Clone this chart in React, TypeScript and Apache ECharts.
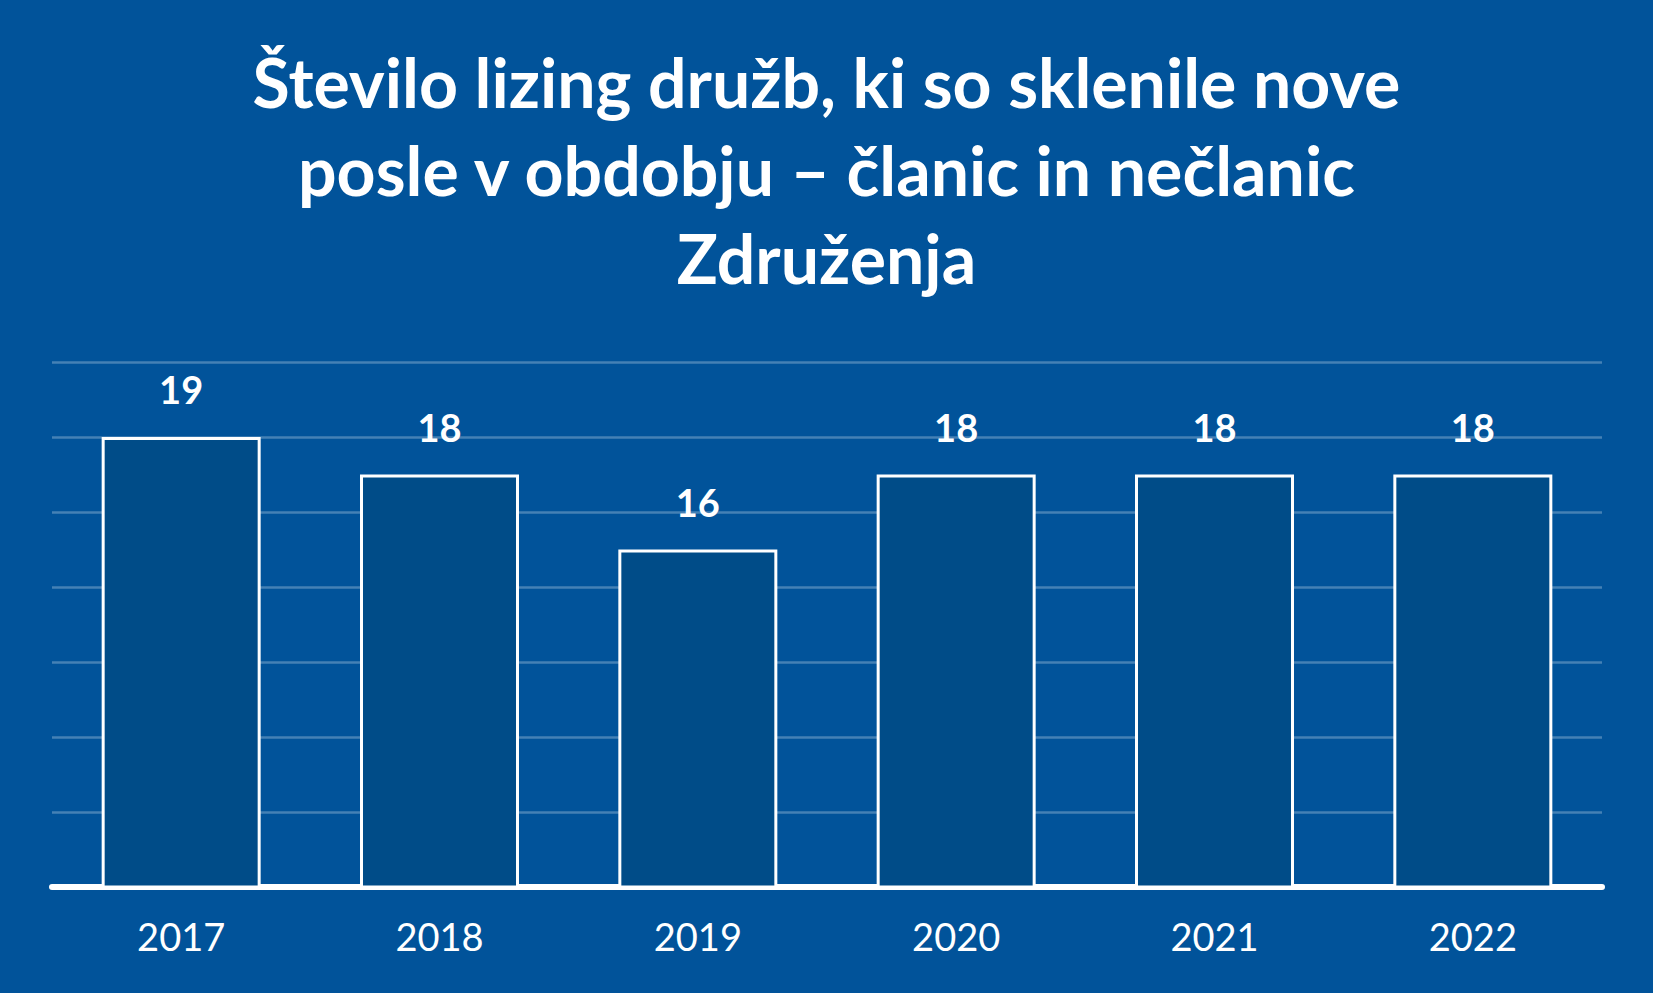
import { useEffect, useRef } from "react";
import * as echarts from "echarts";

const years = ["2017", "2018", "2019", "2020", "2021", "2022"];
const companies = [19, 18, 16, 18, 18, 18];
// Excel-style axis: gridlines on odd values from 7 to 21
const axisMin = 7;
const axisMax = 21;
const gridStep = 2;

const titleText =
  "Število lizing družb, ki so sklenile nove\nposle v obdobju – članic in nečlanic\nZdruženja";

export default function App() {
  const chartRef = useRef<HTMLDivElement>(null);

  useEffect(() => {
    if (!chartRef.current) return;
    const chart = echarts.init(chartRef.current, undefined, { renderer: "svg" });

    const option = {
      animation: false,
      backgroundColor: "#01539a",
      title: {
        text: titleText,
        left: "center",
        top: 32,
        textStyle: {
          color: "#ffffff",
          fontFamily: "Lato",
          fontWeight: "bold",
          fontSize: 68,
          lineHeight: 88,
        },
      },
      grid: {
        left: 52,
        right: 51,
        top: 362,
        bottom: 106,
      },
      xAxis: {
        type: "category",
        data: years,
        axisTick: { show: false },
        axisLine: { lineStyle: { color: "#ffffff", width: 6 } },
        axisLabel: {
          color: "#ffffff",
          fontFamily: "Lato",
          fontSize: 38,
          margin: 30,
        },
      },
      yAxis: [
        {
          type: "value",
          min: axisMin,
          max: axisMax,
          axisLabel: { show: false },
          axisLine: { show: false },
          axisTick: { show: false },
          splitLine: { show: false },
        },
        {
          // helper axis, only for the gridlines (offset so ticks land on odd values)
          type: "value",
          position: "left",
          min: 0,
          max: axisMax - axisMin,
          interval: gridStep,
          axisLabel: { show: false },
          axisLine: { show: false },
          axisTick: { show: false },
          splitLine: {
            lineStyle: { color: "rgba(255,255,255,0.27)", width: 2.5 },
          },
        },
      ],
      series: [
        {
          type: "bar",
          yAxisIndex: 0,
          data: companies,
          barWidth: 159,
          itemStyle: {
            color: "#004c88",
            borderColor: "#ffffff",
            borderWidth: 3,
          },
          label: {
            show: true,
            position: "top",
            distance: 29,
            color: "#ffffff",
            fontFamily: "Lato",
            fontWeight: "bold",
            fontSize: 38,
          },
        },
      ],
    };

    chart.setOption(option);

    return () => {
      chart.dispose();
    };
  }, []);

  return (
    <div
      ref={chartRef}
      style={{ position: "absolute", left: 0, top: 0, width: "1653px", height: "993px" }}
    ></div>
  );
}
